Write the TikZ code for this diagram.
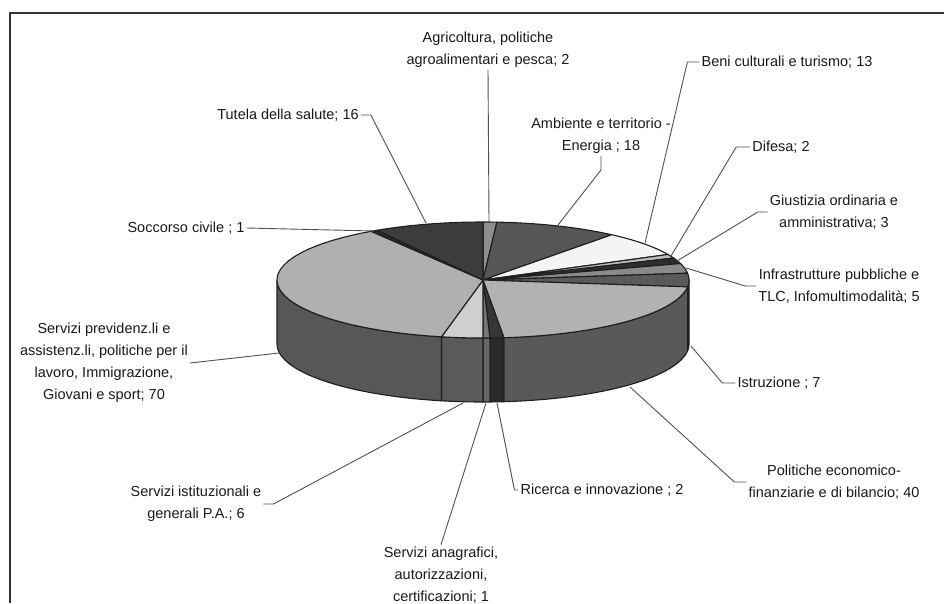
\documentclass[tikz,border=0pt]{standalone}
\usepackage{fontspec}
\setmainfont{Liberation Sans}
\definecolor{edge}{HTML}{1E1E1E}
\definecolor{lead}{HTML}{505050}
\definecolor{tAgr}{HTML}{8E8E8E}
\definecolor{tAmb}{HTML}{565656}
\definecolor{tBen}{HTML}{F4F4F4}
\definecolor{tDif}{HTML}{BDBDBD}
\definecolor{tGiu}{HTML}{2E2E2E}
\definecolor{tInf}{HTML}{8A8A8A}
\definecolor{tIst}{HTML}{5A5A5A}
\definecolor{tPol}{HTML}{B2B2B2}
\definecolor{tRic}{HTML}{363636}
\definecolor{tAna}{HTML}{767676}
\definecolor{tIsti}{HTML}{CFCFCF}
\definecolor{tPrev}{HTML}{B0B0B0}
\definecolor{tSoc}{HTML}{2C2C2C}
\definecolor{tTut}{HTML}{3C3C3C}
\definecolor{sIst}{HTML}{4E4E4E}
\definecolor{sPol}{HTML}{595959}
\definecolor{sRic}{HTML}{2A2A2A}
\definecolor{sAna}{HTML}{676767}
\definecolor{sIsti}{HTML}{5A5A5A}
\definecolor{sPrev}{HTML}{575757}
\begin{document}
\begin{tikzpicture}[x=1pt,y=-1pt,
  lbl/.style={font={\fontsize{14.5}{22}\selectfont}, align=center, inner sep=2pt, text=black!90},
  leader/.style={draw=lead, line width=0.9pt},
  slice/.style={draw=edge, line width=1.1pt, line join=round}]
\useasboundingbox (0,0) rectangle (944,603);
\def\cx{483}\def\cy{280}\def\rx{206}\def\ry{58}\def\hh{64}
% frame
\draw[line width=2pt, black!80] (944,13) -- (10,13) -- (10,603);
% side walls (front half)
\foreach \a/\b/\c in {90/96.774/sIst, 96.774/174.194/sPol, 174.194/178.065/sRic,
    178.065/180/sAna, 180/191.613/sIsti, 191.613/270/sPrev}{
  \filldraw[slice, fill=\c]
    plot[domain=\a:\b, samples=40] ({\cx+\rx*sin(\x)},{\cy-\ry*cos(\x)})
    -- plot[domain=\b:\a, samples=40] ({\cx+\rx*sin(\x)},{\cy+\hh-\ry*cos(\x)}) -- cycle;
}
% top faces
\foreach \a/\b/\c in {0/3.871/tAgr, 3.871/38.710/tAmb, 38.710/63.871/tBen,
    63.871/67.742/tDif, 67.742/73.548/tGiu, 73.548/83.226/tInf, 83.226/96.774/tIst,
    96.774/174.194/tPol, 174.194/178.065/tRic, 178.065/180/tAna, 180/191.613/tIsti,
    191.613/327.097/tPrev, 327.097/329.032/tSoc, 329.032/360/tTut}{
  \filldraw[slice, fill=\c] (\cx,\cy)
    -- plot[domain=\a:\b, samples=40] ({\cx+\rx*sin(\x)},{\cy-\ry*cos(\x)}) -- cycle;
}
% anchor points on the pie
\coordinate (pAgr) at (489,222);
\coordinate (pAmb) at (558,225);
\coordinate (pBen) at (645,243);
\coordinate (pDif) at (671,256);
\coordinate (pGiu) at (677,261);
\coordinate (pInf) at (686,268);
\coordinate (pIst) at (691,346);
\coordinate (pPol) at (630,387);
\coordinate (pRic) at (497,403);
\coordinate (pAna) at (486,403);
\coordinate (pIsti) at (463,403);
\coordinate (pPrev) at (279,353);
\coordinate (pSoc) at (374,231);
\coordinate (pTut) at (426,223);
% labels
\node[lbl] (lAgr) at (488,50) {Agricoltura, politiche\\agroalimentari e pesca; 2};
\node[lbl] (lBen) at (787,62) {Beni culturali e turismo; 13};
\node[lbl] (lTut) at (288,115) {Tutela della salute; 16};
\node[lbl] (lAmb) at (601,136) {Ambiente e territorio -\\Energia ; 18};
\node[lbl] (lDif) at (781,147) {Difesa; 2};
\node[lbl] (lGiu) at (834,212) {Giustizia ordinaria e\\amministrativa; 3};
\node[lbl] (lInf) at (839,286) {Infrastrutture pubbliche e\\TLC, Infomultimodalità; 5};
\node[lbl] (lSoc) at (186,228) {Soccorso civile ; 1};
\node[lbl] (lPrev) at (104,363) {Servizi previdenz.li e\\assistenz.li, politiche per il\\lavoro, Immigrazione,\\Giovani e sport; 70};
\node[lbl] (lIst) at (779,383) {Istruzione ; 7};
\node[lbl] (lPol) at (834,482) {Politiche economico-\\finanziarie e di bilancio; 40};
\node[lbl] (lRic) at (602,490) {Ricerca e innovazione ; 2};
\node[lbl] (lIsti) at (196,504) {Servizi istituzionali e\\generali P.A.; 6};
\node[lbl] (lAna) at (441,575) {Servizi anagrafici,\\autorizzazioni,\\certificazioni; 1};
% leaders
\draw[leader] (lAgr.south) -- (pAgr);
\draw[leader] (lAmb.south) -- ++(0,14) -- (pAmb);
\draw[leader] (lBen.west) -- ++(-12,0) -- (pBen);
\draw[leader] (lDif.west) -- ++(-14,0) -- (pDif);
\draw[leader] (lGiu.west) -- ++(-10,0) -- (pGiu);
\draw[leader] (lInf.west) -- ++(-11,0) -- (pInf);
\draw[leader] (lIst.west) -- ++(-13,0) -- (pIst);
\draw[leader] (lPol.west) -- ++(-12,0) -- (pPol);
\draw[leader] (lRic.west) -- ++(-4,0) -- (pRic);
\draw[leader] (lAna.north) -- (pAna);
\draw[leader] (lIsti.east) -- ++(10,0) -- (pIsti);
\draw[leader] (lPrev.east) -- (pPrev);
\draw[leader] (lSoc.east) -- (pSoc);
\draw[leader] (lTut.east) -- ++(10,0) -- (pTut);
\end{tikzpicture}
\end{document}
